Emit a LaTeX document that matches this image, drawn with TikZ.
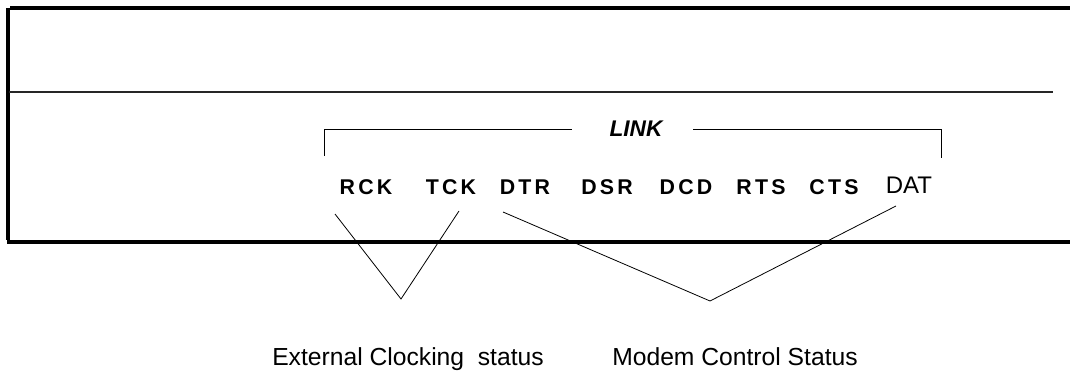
\documentclass[tikz,border=0pt]{standalone}
\usepackage{fontspec}
\setmainfont{Liberation Sans}
\begin{document}
\begin{tikzpicture}[x=0.75pt,y=-0.75pt,
  frame/.style={line width=2.8pt,black},
  thinline/.style={line width=0.8pt,black!85},
  bracket/.style={line width=0.6pt,black},
  conn/.style={line width=0.6pt,black},
  sig/.style={inner sep=0pt,anchor=base,font=\fontsize{16}{19}\selectfont\bfseries\addfontfeature{LetterSpace=15}},
  sigplain/.style={inner sep=0pt,anchor=base,font=\fontsize{18}{21}\selectfont},
  caption/.style={inner sep=0pt,anchor=base,font=\fontsize{18.5}{22}\selectfont}]
\useasboundingbox (0,0) rectangle (1070,373);
% frame
\draw[frame] (8,8) -- (8,240);
\draw[frame] (10,8) -- (1070,8);
\draw[frame] (7,242) -- (1070,242);
\draw[thinline] (9,92) -- (1053,92);
% LINK bracket
\node[inner sep=0pt,anchor=base,font=\fontsize{17}{20}\selectfont\bfseries\itshape] (link) at (636,137) {LINK};
\coordinate (bl) at (324,156);
\coordinate (br) at (941,158);
\draw[bracket] (bl) -- (324,129) -- (572,129);
\draw[bracket] (693,129) -- (941,129) -- (br);
% signals
\node[sig] (rck) at (366,195) {RCK};
\node[sig] (tck) at (451,195) {TCK};
\node[sig] (dtr) at (525,195) {DTR};
\node[sig] (dsr) at (607,195) {DSR};
\node[sig] (dcd) at (686,195) {DCD};
\node[sig] (rts) at (761,195) {RTS};
\node[sig] (cts) at (834,195) {CTS};
\node[sigplain] (dat) at (909,194) {DAT};
% connectors
\coordinate (c1) at (335,214);
\coordinate (c2) at (459,211);
\coordinate (c3) at (503,212);
\coordinate (c4) at (896,206);
\coordinate (ap1) at (401,299);
\coordinate (ap2) at (710,301);
\draw[conn] (c1) -- (ap1) -- (c2);
\draw[conn] (c3) -- (ap2) -- (c4);
% captions
\node[caption] (ext) at (408,366) {External Clocking\ \ status};
\node[caption] (mod) at (735,366) {Modem Control Status};
\end{tikzpicture}
\end{document}
